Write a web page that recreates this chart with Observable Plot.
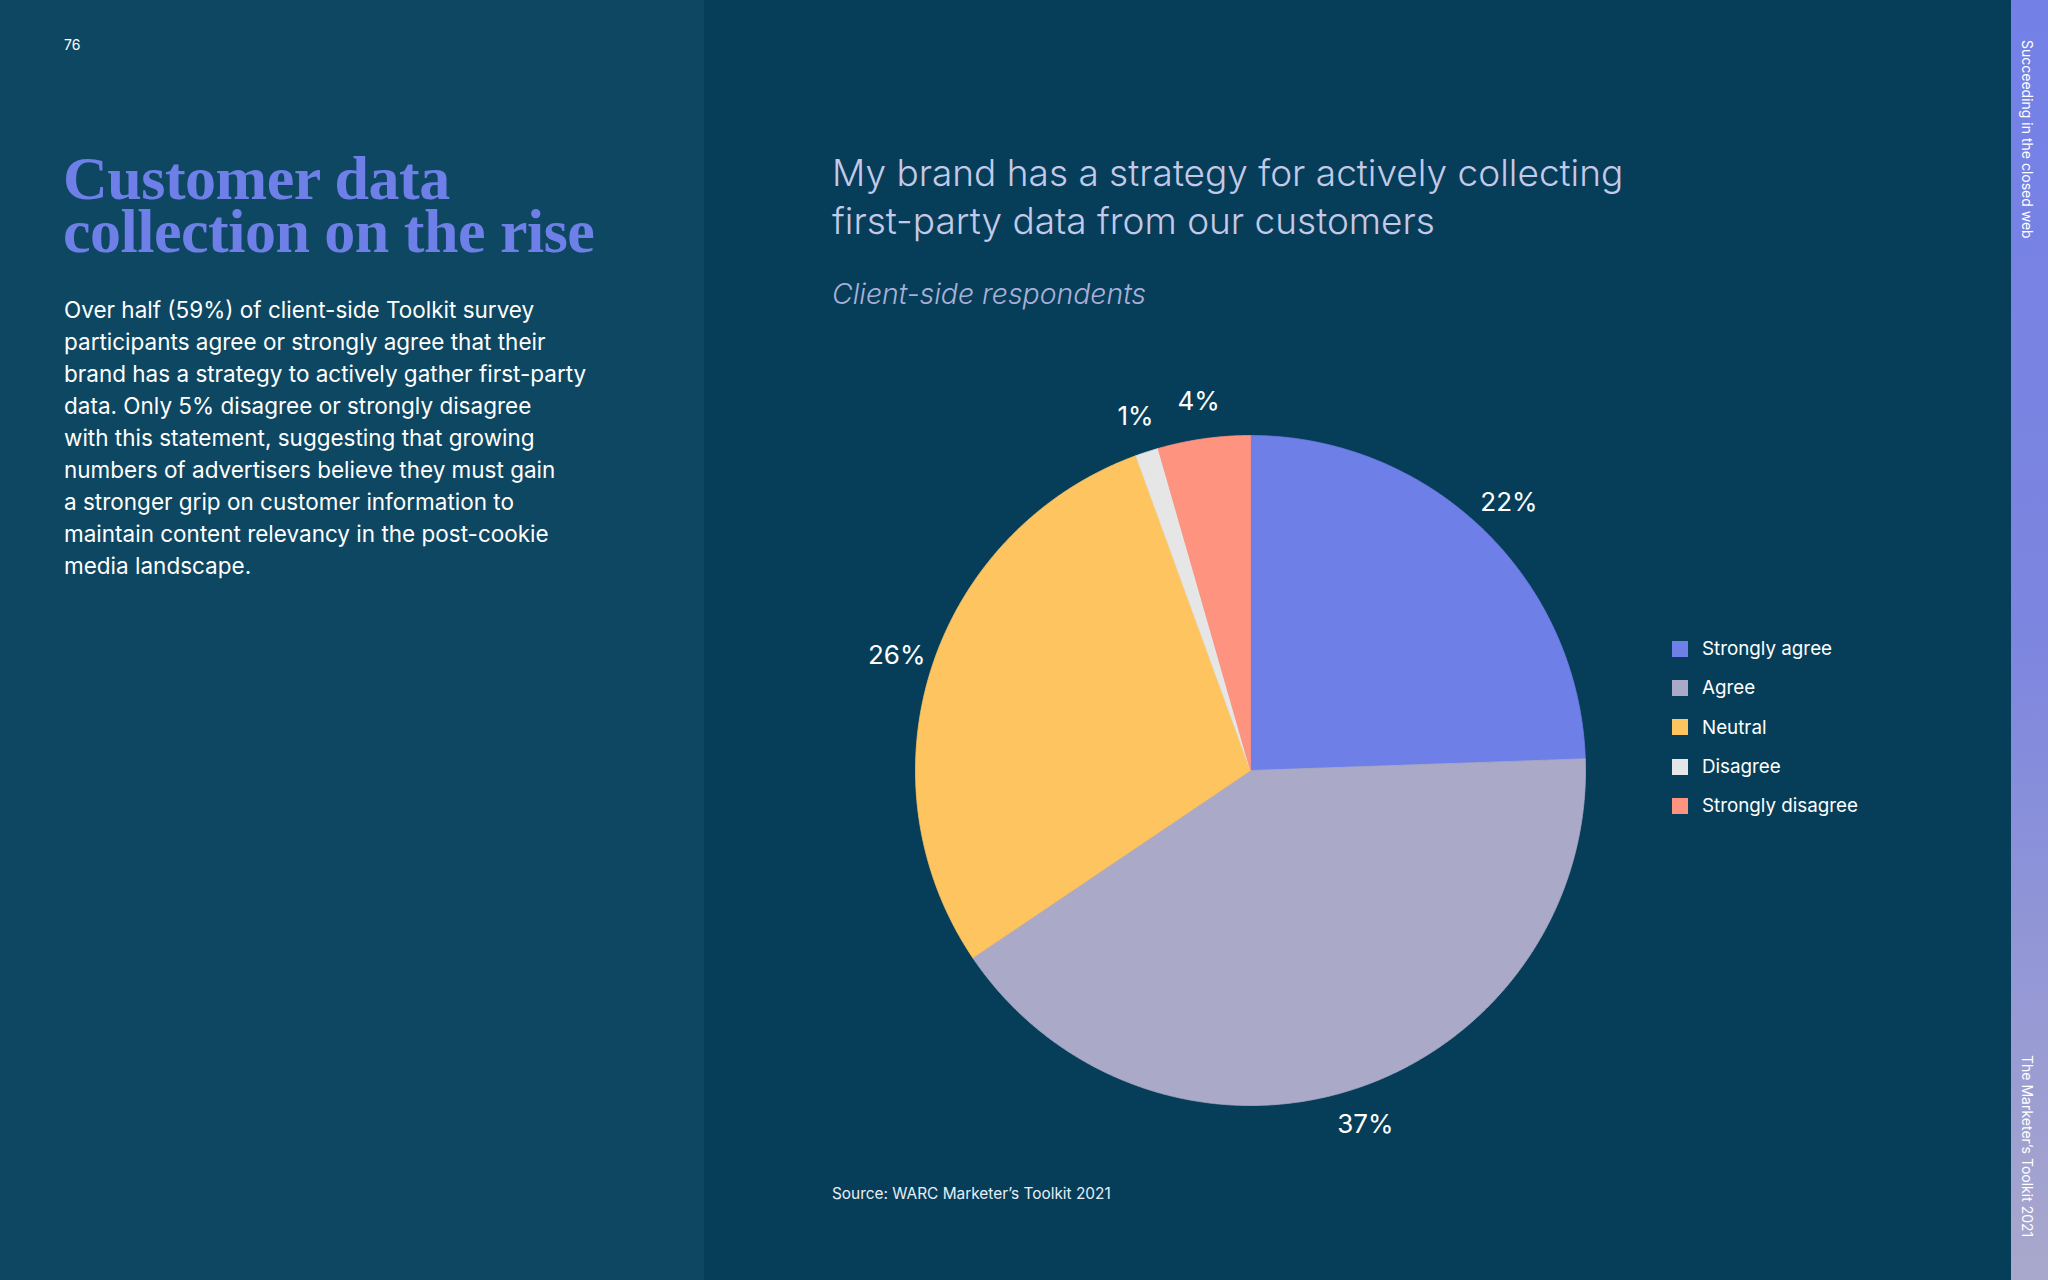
<!DOCTYPE html>
<html>
<head>
<meta charset="utf-8">
<script src="https://cdn.jsdelivr.net/npm/d3@7"></script>
<script src="https://cdn.jsdelivr.net/npm/@observablehq/plot@0.6"></script>
<style>
  html, body { margin: 0; padding: 0; }
  body { width: 2048px; height: 1280px; position: relative; overflow: hidden; background: #063e59; font-family: Inter, "Noto Sans", sans-serif; }
  #left { position: absolute; left: 0; top: 0; width: 704px; height: 1280px; background: #0e4762; }
  #strip { position: absolute; left: 2011px; top: 0; width: 37px; height: 1280px; background: linear-gradient(to bottom, #7380e6 0%, #7d86df 50%, #a9a8cc 100%); }
  .vt { position: absolute; writing-mode: vertical-rl; color: #ffffff; font-size: 14px; left: 2019px; }
  #pagenum { position: absolute; left: 64px; top: 36px; font-size: 14px; color: #ffffff; }
  .title { position: absolute; left: 63px; font-family: "Liberation Serif", serif; font-weight: bold; font-size: 62px; line-height: 53px; height: 53px; color: #6e80e8; letter-spacing: -0.5px; white-space: nowrap; }
  #body { position: absolute; left: 64px; top: 294px; width: 630px; font-size: 22.5px; line-height: 32px; color: #ffffff; }
  #ctitle { position: absolute; left: 832px; top: 149px; font-size: 37px; line-height: 48px; color: #c4c9e8; font-weight: 300; }
  #csub { position: absolute; left: 832px; top: 276px; font-size: 28.4px; font-style: italic; color: #a9b0d8; font-weight: 300; }
  #source { position: absolute; left: 832px; top: 1184px; font-size: 15.4px; color: #e8eef5; }
  #chart { position: absolute; left: 800px; top: 320px; }
  #legend { position: absolute; left: 1672px; top: 629px; }
  .li { height: 39.3px; display: flex; align-items: center; font-size: 18.8px; color: #ffffff; }
  .sw { width: 16px; height: 16px; margin-right: 14px; }
</style>
</head>
<body>
<div id="left"></div>
<div id="strip"></div>
<div class="vt" style="top:40px;">Succeeding in the closed web</div>
<div class="vt" style="top:1055px;">The Marketer’s Toolkit 2021</div>
<div id="pagenum">76</div>
<div class="title" style="top:152px;">Customer data</div>
<div class="title" style="top:205px;">collection on the rise</div>
<div id="body">Over half (59%) of client-side Toolkit survey<br>participants agree or strongly agree that their<br>brand has a strategy to actively gather first-party<br>data. Only 5% disagree or strongly disagree<br>with this statement, suggesting that growing<br>numbers of advertisers believe they must gain<br>a stronger grip on customer information to<br>maintain content relevancy in the post-cookie<br>media landscape.</div>
<div id="ctitle">My brand has a strategy for actively collecting<br>first-party data from our customers</div>
<div id="csub">Client-side respondents</div>
<div id="chart"></div>
<div id="legend"></div>
<div id="source">Source: WARC Marketer’s Toolkit 2021</div>
<script>
// ---- data ----
const categories = ["Strongly agree", "Agree", "Neutral", "Disagree", "Strongly disagree"];
const values = [22, 37, 26, 1, 4];
const valueLabels = ["22%", "37%", "26%", "1%", "4%"];

// ---- styles ----
const palette = ["#6e7fe8", "#aba9c8", "#fec45f", "#e6e6e6", "#fe937f"];
const R = 335;
const labelR = 372;

const table = categories.map((c, i) => ({category: c, value: values[i], label: valueLabels[i]}));
const arcs = d3.pie().sort(null).value(d => d.value).startAngle(0).endAngle(2 * Math.PI)(table);

// polygon points for each slice (angle measured clockwise from 12 o'clock)
const pts = [];
for (const a of arcs) {
  const k = a.data.category;
  pts.push({k, x: 0, y: 0});
  const n = Math.max(2, Math.ceil((a.endAngle - a.startAngle) / 0.005));
  for (let j = 0; j <= n; j++) {
    const t = a.startAngle + (a.endAngle - a.startAngle) * j / n;
    pts.push({k, x: R * Math.sin(t), y: -R * Math.cos(t)});
  }
  pts.push({k, x: 0, y: 0});
}
const labels = arcs.map(a => {
  const m = (a.startAngle + a.endAngle) / 2;
  return {k: a.data.category, text: a.data.label, x: labelR * Math.sin(m), y: -labelR * Math.cos(m)};
});

const plot = Plot.plot({
  width: 900,
  height: 900,
  margin: 0,
  style: {background: "transparent", overflow: "visible"},
  x: {domain: [-450, 450], range: [0, 900], axis: null},
  y: {domain: [-450, 450], range: [0, 900], axis: null},
  color: {domain: categories, range: palette},
  marks: [
    Plot.line(pts, {x: "x", y: "y", z: "k", fill: "k", stroke: "k", strokeWidth: 0.8, curve: "linear"}),
    Plot.text(labels, {x: "x", y: "y", text: "text", fill: "#ffffff", fontSize: 26, fontFamily: "Inter, sans-serif", textAnchor: "middle", lineAnchor: "middle"})
  ]
});
document.getElementById("chart").appendChild(plot);

// legend
const leg = document.getElementById("legend");
categories.forEach((c, i) => {
  const row = document.createElement("div");
  row.className = "li";
  const sw = document.createElement("span");
  sw.className = "sw";
  sw.style.background = palette[i];
  row.appendChild(sw);
  row.appendChild(document.createTextNode(c));
  leg.appendChild(row);
});
</script>
</body>
</html>
